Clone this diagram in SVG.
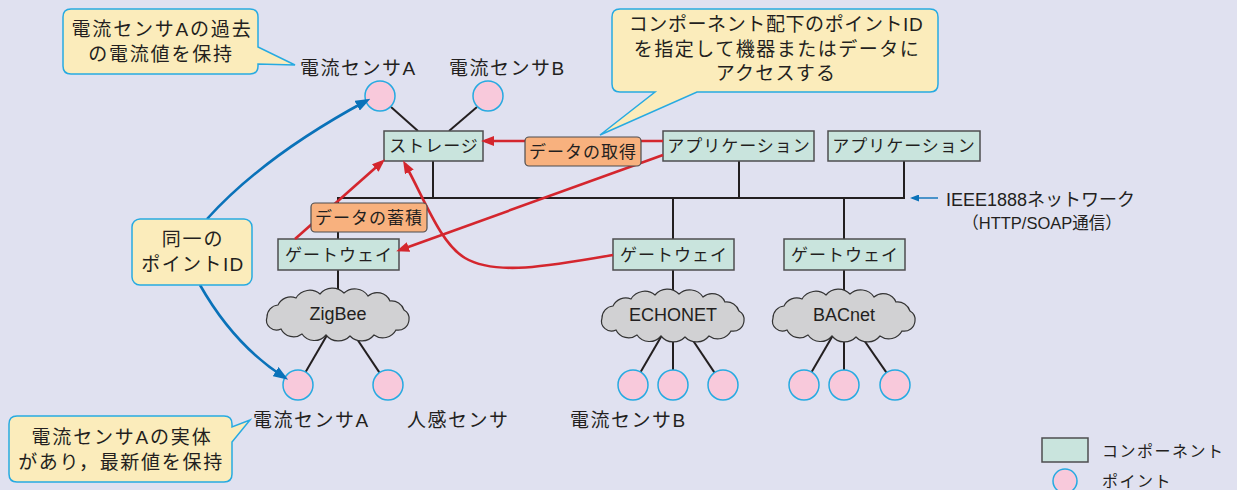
<svg xmlns="http://www.w3.org/2000/svg" width="1237" height="490" viewBox="0 0 1237 490">
<style>
text{font-family:"Liberation Sans","Noto Sans CJK JP",sans-serif;fill:#231f20}
.lbl{font-size:19px;letter-spacing:1.5px}
.cl{font-size:19px;letter-spacing:1.8px;text-anchor:middle}
.bt{font-size:17px;letter-spacing:1px;text-anchor:middle}
.ct{font-size:18px;text-anchor:middle}
.box{fill:#c9e4dd;stroke:#4d4d4f;stroke-width:1.5}
.ora{fill:#f8b17e;stroke:#4d4d4f;stroke-width:1.2}
.pt{fill:#f8c9db;stroke:#27aae1;stroke-width:1.5}
.call{fill:#fbecbb;stroke:#27aae1;stroke-width:1.5}
.cloud{fill:#d1d1d3;stroke:#333;stroke-width:1.2}
.ln{stroke:#231f20;stroke-width:2;fill:none}
.red{stroke:#d4262e;stroke-width:2.6;fill:none;marker-end:url(#ar)}
.blue{stroke:#0a72b9;stroke-width:2.6;fill:none;marker-end:url(#ab)}
</style>
<defs>
<marker id="ar" markerUnits="userSpaceOnUse" markerWidth="13" markerHeight="10" refX="9" refY="5" orient="auto"><path d="M0,0 L13,5 L0,10 Z" fill="#d4262e"/></marker>
<marker id="ab" markerUnits="userSpaceOnUse" markerWidth="15" markerHeight="11" refX="10" refY="5.5" orient="auto"><path d="M0,0 L15,5.5 L0,11 Z" fill="#0a72b9"/></marker>
<marker id="as" markerUnits="userSpaceOnUse" markerWidth="9" markerHeight="7" refX="7" refY="3.5" orient="auto"><path d="M0,0 L9,3.5 L0,7 Z" fill="#0a72b9"/></marker>
<path id="cloudShape" class="cloud" d="M-71,3 A12,12 0 0 1 -60,-9 A14,14 0 0 1 -42,-16 A16,16 0 0 1 -18,-20 A16,16 0 0 1 6,-21 A16,16 0 0 1 30,-18 A14,14 0 0 1 52,-13 A13,13 0 0 1 66,-4 A10,10 0 0 1 71,6 A11,11 0 0 1 58,16 A15,15 0 0 1 36,21 A16,16 0 0 1 12,22 A16,16 0 0 1 -12,21 A15,15 0 0 1 -36,20 A14,14 0 0 1 -57,15 A10,10 0 0 1 -71,3 Z"/>
</defs>
<rect width="1237" height="490" fill="#e0e1f0"/>

<g id="connectors">
<line class="ln" x1="391" y1="107" x2="418" y2="131"/>
<line class="ln" x1="477" y1="107" x2="449" y2="131"/>
<line class="ln" x1="433" y1="161" x2="433" y2="198"/>
<line class="ln" x1="337" y1="198" x2="905" y2="198"/>
<line class="ln" x1="739" y1="161" x2="739" y2="198"/>
<line class="ln" x1="904" y1="161" x2="904" y2="199"/>
<line class="ln" x1="338" y1="197" x2="338" y2="239"/>
<line class="ln" x1="673" y1="198" x2="673" y2="239"/>
<line class="ln" x1="844" y1="198" x2="844" y2="239"/>
<line class="ln" x1="338" y1="270" x2="338" y2="300"/>
<line class="ln" x1="673" y1="270" x2="673" y2="300"/>
<line class="ln" x1="844" y1="270" x2="844" y2="300"/>
<line class="ln" x1="330" y1="330" x2="305.6" y2="372"/>
<line class="ln" x1="351" y1="330" x2="379.5" y2="372.6"/>
<line class="ln" x1="665" y1="330" x2="640.6" y2="372"/>
<line class="ln" x1="673" y1="330" x2="673" y2="370"/>
<line class="ln" x1="686" y1="330" x2="714.5" y2="372.6"/>
<line class="ln" x1="836" y1="330" x2="811.6" y2="372"/>
<line class="ln" x1="844" y1="330" x2="844" y2="370"/>
<line class="ln" x1="857" y1="330" x2="886.5" y2="372.6"/>
</g>

<g id="storage"><rect class="box" x="384" y="131" width="99" height="30"/><text class="bt" x="434" y="152">ストレージ</text></g>
<g id="app1"><rect class="box" x="663" y="131" width="151" height="30"/><text class="bt" x="739" y="152">アプリケーション</text></g>
<g id="app2"><rect class="box" x="828" y="131" width="152" height="30"/><text class="bt" x="904" y="152">アプリケーション</text></g>
<g id="gw1"><rect class="box" x="278" y="239" width="121" height="31"/><text class="bt" x="339" y="261">ゲートウェイ</text></g>
<g id="gw2"><rect class="box" x="613" y="239" width="121" height="31"/><text class="bt" x="674" y="261">ゲートウェイ</text></g>
<g id="gw3"><rect class="box" x="784" y="239" width="121" height="31"/><text class="bt" x="845" y="261">ゲートウェイ</text></g>

<g id="zigbee"><use href="#cloudShape" x="338" y="314"/><text class="ct" x="338" y="320">ZigBee</text></g>
<g id="echonet"><use href="#cloudShape" x="673" y="315"/><text class="ct" x="673" y="321">ECHONET</text></g>
<g id="bacnet"><use href="#cloudShape" x="844" y="315"/><text class="ct" x="844" y="321">BACnet</text></g>

<g id="sensorA-top"><circle class="pt" cx="380" cy="96" r="15"/><text class="lbl" x="300" y="74.5">電流センサA</text></g>
<g id="sensorB-top"><circle class="pt" cx="488" cy="96" r="15"/><text class="lbl" x="449" y="74.5">電流センサB</text></g>
<g id="zb-sensorA"><circle class="pt" cx="298" cy="385" r="15"/><text class="lbl" x="253" y="426.5">電流センサA</text></g>
<g id="zb-human"><circle class="pt" cx="388" cy="385" r="15"/><text class="lbl" x="407" y="426.5">人感センサ</text></g>
<g id="ec-p1"><circle class="pt" cx="633" cy="385" r="15"/><text class="lbl" x="570" y="426.5">電流センサB</text></g>
<g id="ec-p2"><circle class="pt" cx="673" cy="385" r="15"/></g>
<g id="ec-p3"><circle class="pt" cx="723" cy="385" r="15"/></g>
<g id="bn-p1"><circle class="pt" cx="804" cy="385" r="15"/></g>
<g id="bn-p2"><circle class="pt" cx="844" cy="385" r="15"/></g>
<g id="bn-p3"><circle class="pt" cx="895" cy="385" r="15"/></g>

<g id="flows">
<line class="red" x1="663" y1="141" x2="485" y2="141"/>
<line class="red" x1="663" y1="155" x2="400" y2="250"/>
<line class="red" x1="295" y1="239" x2="382" y2="162"/>
<path class="red" d="M613,255 C550,266 495,276 465,258 C440,243 425,200 405,164"/>
<path class="blue" d="M207,219 Q264,156 366,101"/>
<path class="blue" d="M200,285 Q234,345 284,377"/>
<line x1="938" y1="198" x2="912" y2="198" stroke="#0a72b9" stroke-width="1.4" marker-end="url(#as)"/>
</g>

<g id="label-get"><rect class="ora" x="525" y="137" width="116" height="29" rx="4"/><text class="bt" x="583" y="158">データの取得</text></g>
<g id="label-store"><rect class="ora" x="311" y="203" width="116" height="29" rx="4"/><text class="bt" x="369" y="224">データの蓄積</text></g>

<g id="network-label">
<text x="946" y="206" style="font-size:18px">IEEE1888ネットワーク</text>
<text x="1042" y="229" style="font-size:16.5px;text-anchor:middle">（HTTP/SOAP通信）</text>
</g>

<g id="callout-past">
<path class="call" d="M71,9 H250 Q258,9 258,17 V47 L295,65 L258,64 V66 Q258,74 250,74 H71 Q63,74 63,66 V17 Q63,9 71,9 Z"/>
<text class="cl" x="162" y="35.5">電流センサAの過去</text>
<text class="cl" x="161" y="60.5">の電流値を保持</text>
</g>
<g id="callout-access">
<path class="call" d="M620,9 H930 Q938,9 938,17 V84 Q938,92 930,92 H697 L600,135 L655,92 H620 Q612,92 612,84 V17 Q612,9 620,9 Z"/>
<text class="cl" x="776" y="31" style="letter-spacing:0.6px">コンポーネント配下のポイントID</text>
<text class="cl" x="777" y="56" style="letter-spacing:1.5px">を指定して機器またはデータに</text>
<text class="cl" x="776" y="80" style="letter-spacing:1.2px">アクセスする</text>
</g>
<g id="callout-sameid">
<rect class="call" x="132" y="219" width="120" height="66" rx="8"/>
<text class="cl" x="193" y="245.5">同一の</text>
<text class="cl" x="193" y="270.5" style="letter-spacing:1.4px">ポイントID</text>
</g>
<g id="callout-entity">
<path class="call" d="M17,416 H224 Q232,416 232,424 V427 L250,420 L232,442 V474 Q232,482 224,482 H17 Q9,482 9,474 V424 Q9,416 17,416 Z"/>
<text class="cl" x="122" y="443.5">電流センサAの実体</text>
<text class="cl" x="121" y="468.5" style="letter-spacing:1.7px">があり，最新値を保持</text>
</g>

<g id="legend">
<rect class="box" x="1042" y="438" width="46" height="24"/>
<text x="1102" y="457" style="font-size:16px;letter-spacing:1.5px">コンポーネント</text>
<circle class="pt" cx="1065" cy="481" r="12"/>
<text x="1102" y="487" style="font-size:16px;letter-spacing:1.5px">ポイント</text>
</g>
</svg>
